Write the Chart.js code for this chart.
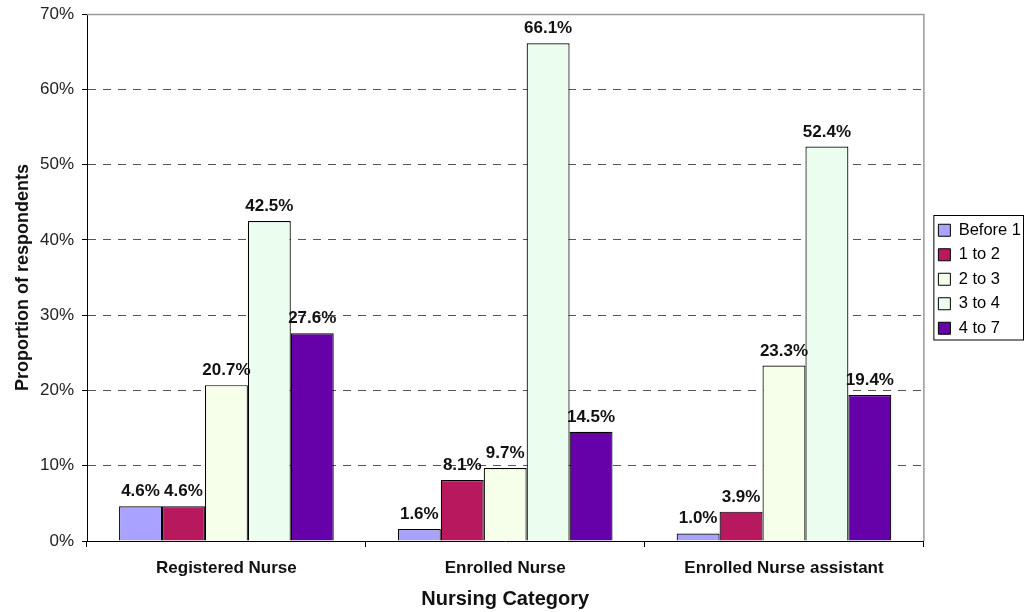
<!DOCTYPE html>
<html>
<head>
<meta charset="utf-8">
<script src="https://cdn.jsdelivr.net/npm/chart.js@4/dist/chart.umd.min.js"></script>
<style>
  html, body { margin: 0; padding: 0; background: #fff; }
  #wrap { width: 1025px; height: 612px; }
</style>
</head>
<body>
<div id="wrap"><canvas id="nurseChart" width="1025" height="612"></canvas></div>
<script>
const categories = ['Registered Nurse', 'Enrolled Nurse', 'Enrolled Nurse assistant'];
const seriesNames = ['Before 1', '1 to 2', '2 to 3', '3 to 4', '4 to 7'];
const before1 = [4.6, 1.6, 1.0];
const oneToTwo = [4.6, 8.1, 3.9];
const twoToThree = [20.7, 9.7, 23.3];
const threeToFour = [42.5, 66.1, 52.4];
const fourToSeven = [27.6, 14.5, 19.4];
const yTicks = [0, 10, 20, 30, 40, 50, 60, 70];
const colors = ['#aaa2ff', '#b8185e', '#f6ffe9', '#ebfdef', '#6600a8'];

const font = "'Liberation Sans', Arial, sans-serif";
const legendFont = 16.5, legendPad = 8;

// value labels above each bar
const barLabels = {
  id: 'barLabels',
  afterDatasetsDraw(chart) {
    const c = chart.ctx;
    c.save();
    c.font = 'bold 17px ' + font;
    c.fillStyle = '#111';
    c.textAlign = 'center';
    c.textBaseline = 'alphabetic';
    chart.data.datasets.forEach((ds, i) => {
      chart.getDatasetMeta(i).data.forEach((bar, j) => {
        c.fillText(ds.data[j].toFixed(1) + '%', bar.x, bar.y - 10);
      });
    });
    c.restore();
  }
};

// grey frame on top/right of plot, legend moved up and boxed
const frame = {
  id: 'frame',
  afterLayout(chart) {
    const l = chart.legend;
    l.left += 7;
    l.right += 7;
    l.top = 214;
  },
  beforeDatasetsDraw(chart) {
    const a = chart.chartArea, c = chart.ctx;
    c.save();
    c.strokeStyle = '#9a9a9a';
    c.lineWidth = 1.5;
    c.beginPath();
    c.moveTo(a.left, a.top + 0.5);
    c.lineTo(a.right + 0.5, a.top + 0.5);
    c.lineTo(a.right + 0.5, a.bottom);
    c.stroke();
    c.restore();
  },
  afterDraw(chart) {
    const l = chart.legend, c = chart.ctx;
    const n = chart.data.datasets.length;
    const h = legendPad + n * (legendFont + legendPad) - legendPad + 2;
    c.save();
    c.strokeStyle = '#000';
    c.lineWidth = 1;
    c.strokeRect(l.left + 3.5, l.top + 1.5, 1023.5 - (l.left + 3.5), h);
    c.restore();
  }
};

new Chart(document.getElementById('nurseChart'), {
  type: 'bar',
  data: {
    labels: categories,
    datasets: [before1, oneToTwo, twoToThree, threeToFour, fourToSeven].map((d, i) => ({
      label: seriesNames[i],
      data: d,
      backgroundColor: colors[i],
      borderColor: '#000',
      borderWidth: 1.2,
      categoryPercentage: 0.77,
      barPercentage: 1
    }))
  },
  options: {
    responsive: false,
    animation: false,
    layout: { padding: { top: 14, right: 1, left: 0, bottom: 0 } },
    scales: {
      x: {
        afterFit: (s) => { s.height = 71; },
        grid: { offset: true, drawOnChartArea: false, color: '#000', tickLength: 6 },
        border: { color: '#000', width: 1 },
        ticks: { color: '#111', font: { family: font, size: 17, weight: 'bold' }, padding: 11 },
        title: { display: true, text: 'Nursing Category', color: '#111', font: { family: font, size: 20, weight: 'bold' }, padding: { top: 0, bottom: 1 } }
      },
      y: {
        min: 0,
        max: 70,
        afterFit: (s) => { s.width = 87; s.paddingTop = 0; s.paddingBottom = 0; },
        afterBuildTicks: (s) => { s.ticks = yTicks.map(v => ({ value: v })); },
        grid: {
          color: (ctx) => (ctx.tick && (ctx.tick.value === 0 || ctx.tick.value === 70)) ? 'rgba(0,0,0,0)' : '#555',
          tickColor: '#000',
          tickLength: 5
        },
        border: { color: '#000', width: 1, dash: [8, 7] },
        ticks: { color: '#222', font: { family: font, size: 17 }, padding: 8, callback: (v) => v + '%' },
        title: { display: true, text: 'Proportion of respondents', color: '#111', font: { family: font, size: 18, weight: 'bold' }, padding: { top: 12, bottom: 4 } }
      }
    },
    plugins: {
      legend: {
        position: 'right',
        align: 'start',
        labels: {
          boxWidth: 12,
          boxHeight: 12,
          padding: legendPad,
          color: '#111',
          font: { family: font, size: legendFont },
          generateLabels: (chart) => chart.data.datasets.map((ds, i) => ({
            text: ds.label,
            fillStyle: ds.backgroundColor,
            strokeStyle: '#000',
            lineWidth: 1,
            datasetIndex: i
          }))
        }
      },
      tooltip: { enabled: false }
    }
  },
  plugins: [barLabels, frame]
});
</script>
</body>
</html>
